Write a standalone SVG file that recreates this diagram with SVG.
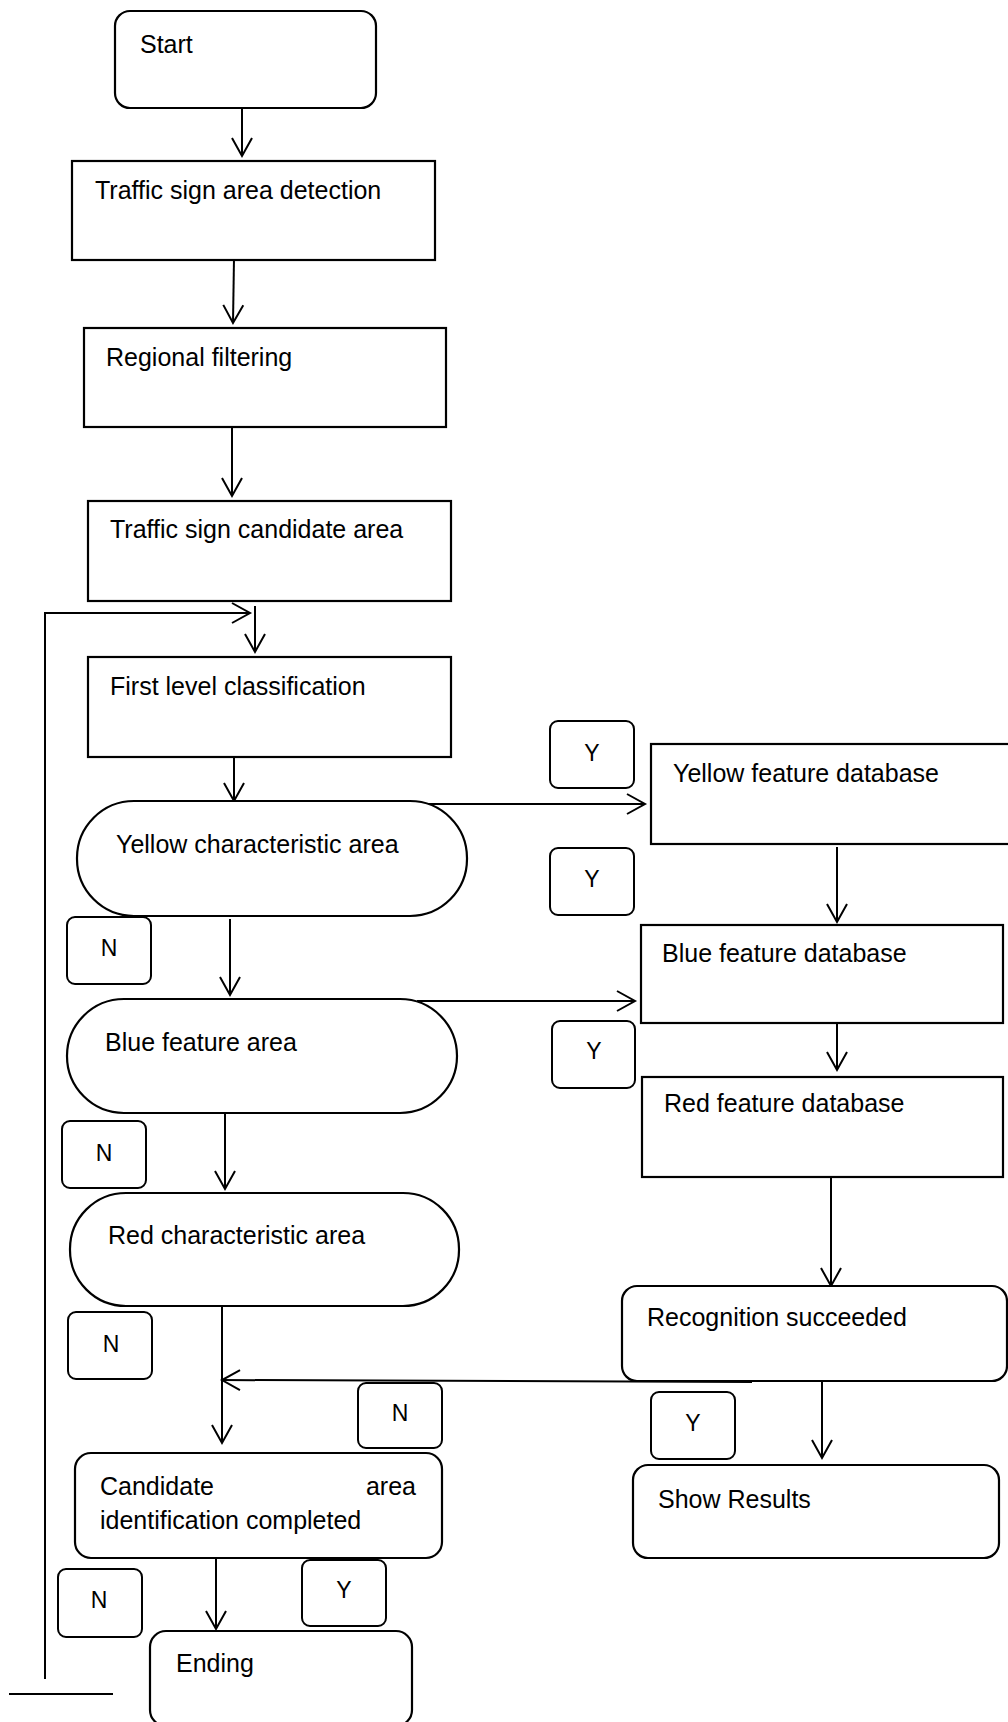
<svg xmlns="http://www.w3.org/2000/svg" width="1008" height="1722" viewBox="0 0 1008 1722">
<style>
.box{fill:#fff;stroke:#000;stroke-width:2.2}
.lab{fill:#fff;stroke:#000;stroke-width:2}
.t{font-family:"Liberation Sans",Arial,sans-serif;font-size:25px;fill:#000}
.l{font-family:"Liberation Sans",Arial,sans-serif;font-size:23px;fill:#000;text-anchor:middle}
.c{fill:none;stroke:#000;stroke-width:2}
</style>
<defs>
<marker id="arr" markerUnits="userSpaceOnUse" markerWidth="24" markerHeight="24" viewBox="-20 -12 24 24" refX="0" refY="0" orient="auto">
<path d="M-18,-10 L0,0 L-18,10" fill="none" stroke="#000" stroke-width="2"/>
</marker>
</defs>
<rect width="1008" height="1722" fill="#fff"/>
<g id="connectors">
<line class="c" x1="242" y1="108" x2="242" y2="156" marker-end="url(#arr)"/>
<line class="c" x1="234" y1="258" x2="233" y2="323" marker-end="url(#arr)"/>
<line class="c" x1="232" y1="427" x2="232" y2="496" marker-end="url(#arr)"/>
<polyline class="c" points="45,1679 45,613 250,613" marker-end="url(#arr)"/>
<line class="c" x1="255" y1="606" x2="255" y2="652" marker-end="url(#arr)"/>
<line class="c" x1="234" y1="757" x2="234" y2="801" marker-end="url(#arr)"/>
<line class="c" x1="425" y1="804" x2="645" y2="804" marker-end="url(#arr)"/>
<line class="c" x1="230" y1="919" x2="230" y2="995" marker-end="url(#arr)"/>
<line class="c" x1="417" y1="1001" x2="635" y2="1001" marker-end="url(#arr)"/>
<line class="c" x1="225" y1="1113" x2="225" y2="1189" marker-end="url(#arr)"/>
<line class="c" x1="222" y1="1306" x2="222" y2="1443" marker-end="url(#arr)"/>
<line class="c" x1="752" y1="1382" x2="222" y2="1380" marker-end="url(#arr)"/>
<line class="c" x1="216" y1="1553" x2="216" y2="1629" marker-end="url(#arr)"/>
<line class="c" x1="837" y1="847" x2="837" y2="922" marker-end="url(#arr)"/>
<line class="c" x1="837" y1="1023" x2="837" y2="1070" marker-end="url(#arr)"/>
<line class="c" x1="831" y1="1177" x2="831" y2="1286" marker-end="url(#arr)"/>
<line class="c" x1="822" y1="1381" x2="822" y2="1458" marker-end="url(#arr)"/>
<line class="c" x1="9" y1="1694" x2="113" y2="1694" stroke-width="1.5"/>
</g>
<g id="start"><rect class="box" x="115" y="11" width="261" height="97" rx="15"/><text class="t" x="140" y="53">Start</text></g>
<g id="detection"><rect class="box" x="72" y="161" width="363" height="99"/><text class="t" x="95" y="199">Traffic sign area detection</text></g>
<g id="filtering"><rect class="box" x="84" y="328" width="362" height="99"/><text class="t" x="106" y="366">Regional filtering</text></g>
<g id="candidate"><rect class="box" x="88" y="501" width="363" height="100"/><text class="t" x="110" y="538">Traffic sign candidate area</text></g>
<g id="firstlevel"><rect class="box" x="88" y="657" width="363" height="100"/><text class="t" x="110" y="695">First level classification</text></g>
<g id="yellowarea"><rect class="box" x="77" y="801" width="390" height="115" rx="57" ry="57"/><text class="t" x="116" y="853">Yellow characteristic area</text></g>
<g id="bluearea"><rect class="box" x="67" y="999" width="390" height="114" rx="57" ry="57"/><text class="t" x="105" y="1051">Blue feature area</text></g>
<g id="redarea"><rect class="box" x="70" y="1193" width="389" height="113" rx="56" ry="56"/><text class="t" x="108" y="1244">Red characteristic area</text></g>
<g id="completed"><rect class="box" x="75" y="1453" width="367" height="105" rx="16"/><text class="t" x="100" y="1495">Candidate</text><text class="t" x="416" y="1495" text-anchor="end">area</text><text class="t" x="100" y="1529">identification completed</text></g>
<g id="ending"><rect class="box" x="150" y="1631" width="262" height="95" rx="16"/><text class="t" x="176" y="1672">Ending</text></g>
<g id="yellowdb"><rect class="box" x="651" y="744" width="365" height="100"/><text class="t" x="673" y="782">Yellow feature database</text></g>
<g id="bluedb"><rect class="box" x="641" y="925" width="362" height="98"/><text class="t" x="662" y="962">Blue feature database</text></g>
<g id="reddb"><rect class="box" x="642" y="1077" width="361" height="100"/><text class="t" x="664" y="1112">Red feature database</text></g>
<g id="recognition"><rect class="box" x="622" y="1286" width="385" height="95" rx="15"/><text class="t" x="647" y="1326">Recognition succeeded</text></g>
<g id="results"><rect class="box" x="633" y="1465" width="366" height="93" rx="15"/><text class="t" x="658" y="1508">Show Results</text></g>
<g id="label-y1"><rect class="lab" x="550" y="721" width="84" height="67" rx="8"/><text class="l" x="592" y="761">Y</text></g>
<g id="label-y2"><rect class="lab" x="550" y="848" width="84" height="67" rx="8"/><text class="l" x="592" y="887">Y</text></g>
<g id="label-y3"><rect class="lab" x="552" y="1021" width="83" height="67" rx="8"/><text class="l" x="594" y="1059">Y</text></g>
<g id="label-n1"><rect class="lab" x="67" y="917" width="84" height="67" rx="8"/><text class="l" x="109" y="956">N</text></g>
<g id="label-n2"><rect class="lab" x="62" y="1121" width="84" height="67" rx="8"/><text class="l" x="104" y="1161">N</text></g>
<g id="label-n3"><rect class="lab" x="68" y="1312" width="84" height="67" rx="8"/><text class="l" x="111" y="1352">N</text></g>
<g id="label-n4"><rect class="lab" x="358" y="1383" width="84" height="65" rx="8"/><text class="l" x="400" y="1421">N</text></g>
<g id="label-n5"><rect class="lab" x="58" y="1569" width="84" height="68" rx="8"/><text class="l" x="99" y="1608">N</text></g>
<g id="label-y4"><rect class="lab" x="302" y="1560" width="84" height="66" rx="8"/><text class="l" x="344" y="1598">Y</text></g>
<g id="label-y5"><rect class="lab" x="651" y="1392" width="84" height="67" rx="8"/><text class="l" x="693" y="1431">Y</text></g>
</svg>
